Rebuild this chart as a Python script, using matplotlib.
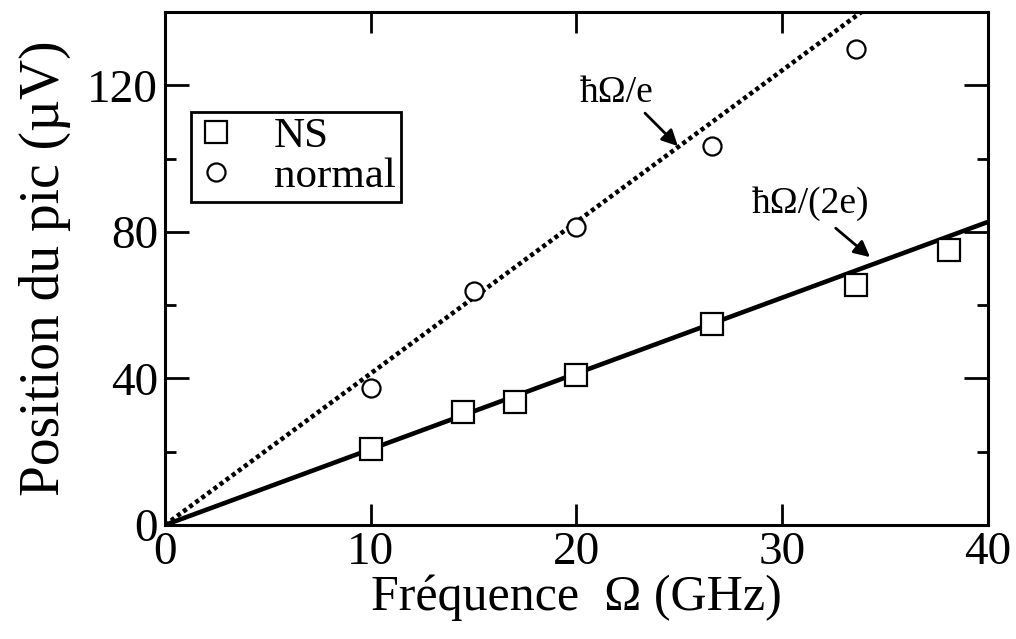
import numpy as np
import matplotlib.pyplot as plt
from matplotlib.ticker import MultipleLocator

plt.rcParams['font.family'] = ['Liberation Serif', 'DejaVu Serif']

# data
freq_ns = [10, 14.5, 17, 20, 26.6, 33.6, 38.1]
peak_ns = [20.7, 30.8, 33.6, 40.9, 54.8, 65.6, 75.0]
freq_normal = [10, 15, 20, 26.6, 33.6]
peak_normal = [37.4, 63.8, 81.3, 103.4, 130.0]

# h/e and h/(2e) in uV per GHz
slope_e = 4.136
slope_2e = 2.068
x_line = np.array([0, 40])

fig = plt.figure(figsize=(10.16, 6.39), dpi=100)
ax = fig.add_axes([0.1624, 0.1784, 0.8100, 0.8028])

ax.plot(x_line, slope_2e * x_line, '-', color='black', lw=3.3, zorder=2)
ax.plot(x_line, slope_e * x_line, color='black', lw=3.3,
        linestyle=(0, (0.9, 0.75)), zorder=2)

ax.plot(freq_ns, peak_ns, 's', ms=16, mfc='white', mec='black', mew=1.6,
        label='NS', zorder=3)
ax.plot(freq_normal, peak_normal, 'o', ms=13, mfc='white', mec='black', mew=1.6,
        label='normal', zorder=3)

# labels and arrows
ax.text(21.97, 118, 'ħΩ/e', fontsize=27, ha='center', va='center')
ax.annotate('', xy=(24.93, 103.4), xytext=(23.33, 112.4),
            arrowprops=dict(arrowstyle='-|>', color='black', lw=2,
                            mutation_scale=24, shrinkA=0, shrinkB=0))
ax.text(31.35, 87.8, 'ħΩ/(2e)', fontsize=27, ha='center', va='center')
ax.annotate('', xy=(34.27, 73.1), xytext=(32.6, 81.0),
            arrowprops=dict(arrowstyle='-|>', color='black', lw=2,
                            mutation_scale=24, shrinkA=0, shrinkB=0))

ax.set_xlim(0, 40)
ax.set_ylim(0, 140)
ax.xaxis.set_major_locator(MultipleLocator(10))
ax.yaxis.set_major_locator(MultipleLocator(40))
ax.yaxis.set_minor_locator(MultipleLocator(20))
ax.tick_params(which='both', direction='in', top=True, right=True,
               width=2, labelsize=34, pad=5)
ax.tick_params(axis='x', which='major', length=15)
ax.tick_params(axis='y', which='major', length=17)
ax.tick_params(axis='y', which='minor', length=8)
for s in ax.spines.values():
    s.set_linewidth(2.2)

ax.set_xlabel('Fréquence  Ω (GHz)', fontsize=36, labelpad=0)
ax.set_ylabel('Position du pic (µV)', fontsize=40, labelpad=12)

leg = ax.legend(loc='upper left', bbox_to_anchor=(0.032, 0.805), fontsize=31,
                frameon=True, fancybox=False, edgecolor='black', framealpha=1,
                handletextpad=0.9, borderpad=0.12, labelspacing=0.02,
                handlelength=0.9, borderaxespad=0)
leg.get_frame().set_linewidth(2)

plt.savefig('out.png', dpi=100)
